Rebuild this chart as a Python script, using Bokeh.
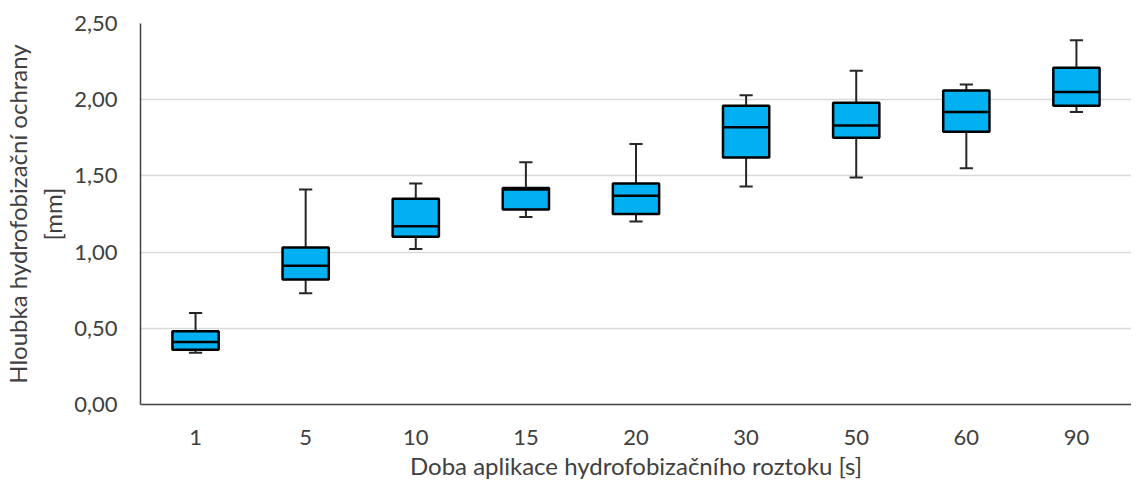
from bokeh.plotting import figure
from bokeh.models import FactorRange, ColumnDataSource, FixedTicker, CustomJSTickFormatter
from bokeh.transform import dodge
from bokeh.embed import file_html
from bokeh.resources import INLINE

categories = ["1", "5", "10", "15", "20", "30", "50", "60", "90"]
minimum = [0.34, 0.73, 1.02, 1.23, 1.20, 1.43, 1.49, 1.55, 1.92]
q1 = [0.36, 0.82, 1.10, 1.28, 1.25, 1.62, 1.75, 1.79, 1.96]
median = [0.41, 0.91, 1.17, 1.41, 1.37, 1.82, 1.83, 1.92, 2.05]
q3 = [0.48, 1.03, 1.35, 1.42, 1.45, 1.96, 1.98, 2.06, 2.21]
maximum = [0.60, 1.41, 1.45, 1.59, 1.71, 2.03, 2.19, 2.10, 2.39]
y_ticks = [0.0, 0.5, 1.0, 1.5, 2.0, 2.5]

src = ColumnDataSource(dict(cat=categories, lo=minimum, q1=q1, med=median, q3=q3, hi=maximum))

FONT = "Lato"
TXT = "#404040"

p = figure(x_range=FactorRange(*categories), y_range=(0, 2.5),
           frame_width=991, frame_height=381, output_backend="svg", toolbar_location=None,
           min_border_left=133, min_border_right=0, min_border_top=23, min_border_bottom=0)
p.outline_line_color = None
p.xgrid.grid_line_color = None
p.ygrid.grid_line_color = "#D9D9D9"
p.ygrid.grid_line_width = 1.5

p.yaxis.ticker = FixedTicker(ticks=y_ticks)
p.yaxis.formatter = CustomJSTickFormatter(code="return tick.toFixed(2).replace('.', ',');")
for ax in (p.xaxis[0], p.yaxis[0]):
    ax.axis_line_color = "#404040"
    ax.axis_line_width = 1.5
    ax.major_tick_line_color = None
    ax.minor_tick_line_color = None
    ax.major_label_text_font = FONT
    ax.major_label_text_font_size = "22px"
    ax.major_label_text_color = TXT
    ax.axis_label_text_font = FONT
    ax.axis_label_text_font_style = "normal"
    ax.axis_label_text_color = TXT

p.yaxis.major_label_standoff = 17
p.xaxis.major_label_standoff = 19
p.yaxis.axis_label = "Hloubka hydrofobizační ochrany\n[mm]"
p.yaxis.axis_label_text_font_size = "24px"
p.yaxis.axis_label_standoff = 4
p.xaxis.axis_label = "Doba aplikace hydrofobizačního roztoku [s]"
p.xaxis.axis_label_text_font_size = "24px"
p.xaxis.axis_label_standoff = 3

WC = "#262626"
p.segment(x0="cat", y0="q3", x1="cat", y1="hi", source=src, line_color=WC, line_width=2)
p.segment(x0="cat", y0="lo", x1="cat", y1="q1", source=src, line_color=WC, line_width=2)
p.segment(x0=dodge("cat", -0.06, range=p.x_range), y0="hi",
          x1=dodge("cat", 0.06, range=p.x_range), y1="hi", source=src, line_color=WC, line_width=2)
p.segment(x0=dodge("cat", -0.06, range=p.x_range), y0="lo",
          x1=dodge("cat", 0.06, range=p.x_range), y1="lo", source=src, line_color=WC, line_width=2)
p.vbar(x="cat", bottom="q1", top="q3", width=0.42, source=src,
       fill_color="#00B0F0", line_color="black", line_width=2.5)
p.segment(x0=dodge("cat", -0.21, range=p.x_range), y0="med",
          x1=dodge("cat", 0.21, range=p.x_range), y1="med", source=src, line_color="black", line_width=2.5)

open("out.html", "w").write(file_html(p, INLINE))
